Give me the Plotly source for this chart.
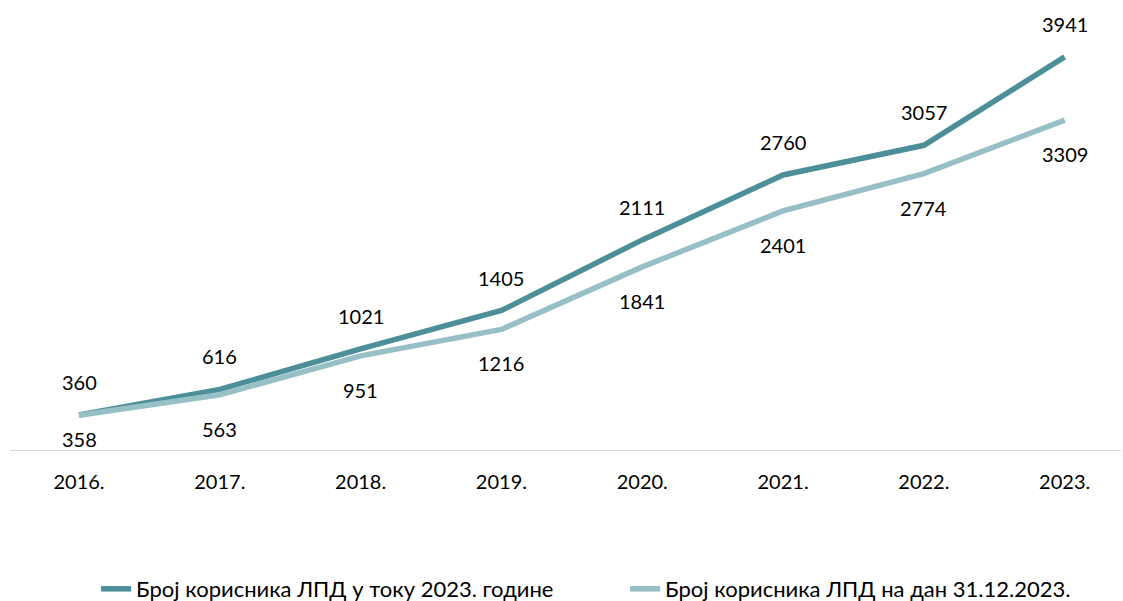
import plotly.graph_objects as go

years = ["2016.", "2017.", "2018.", "2019.", "2020.", "2021.", "2022.", "2023."]
during_2023 = [360, 616, 1021, 1405, 2111, 2760, 3057, 3941]
on_31_12 = [358, 563, 951, 1216, 1841, 2401, 2774, 3309]
name1 = "Број корисника ЛПД у току 2023. године"
name2 = "Број корисника ЛПД на дан 31.12.2023."

c1 = "#4C8F99"
c2 = "#97BFC6"
font = "Lato, 'Noto Sans', sans-serif"

fig = go.Figure()
fig.add_trace(go.Scatter(x=list(range(len(years))), y=during_2023, mode="lines", name=name1,
                         line=dict(color=c1, width=5.5)))
fig.add_trace(go.Scatter(x=list(range(len(years))), y=on_31_12, mode="lines", name=name2,
                         line=dict(color=c2, width=5.5)))

for i, v in enumerate(during_2023):
    fig.add_annotation(x=i, y=v, text=str(v), showarrow=False, yshift=33,
                       font=dict(size=20, color="#000000", family=font))
for i, v in enumerate(on_31_12):
    # label kept inside the plot area (above the axis line) like the original
    shift = -24 if i == 0 else -34
    fig.add_annotation(x=i, y=v, text=str(v), showarrow=False, yshift=shift,
                       font=dict(size=20, color="#000000", family=font))

fig.update_layout(
    width=1123, height=601,
    margin=dict(l=10, r=2, t=1, b=150, autoexpand=False),
    plot_bgcolor="white", paper_bgcolor="white",
    font=dict(family=font, size=20, color="#000000"),
    showlegend=True,
    legend=dict(orientation="h", x=0.0775, xanchor="left", y=-0.3067, yanchor="middle",
                font=dict(size=22), entrywidth=484, entrywidthmode="pixels"),
    xaxis=dict(range=[-0.49, 7.40], tickmode="array", tickvals=list(range(len(years))),
               ticktext=years, showgrid=False, zeroline=False, showline=False,
               ticks="", ticklabelstandoff=17, automargin=False),
    yaxis=dict(range=[0, 4500], visible=False, showgrid=False, zeroline=False, automargin=False),
)
fig.add_shape(type="line", xref="paper", yref="y", x0=0, x1=1, y0=0, y1=0,
              line=dict(color="#D9D9D9", width=2))
fig.write_html("out.html", config={"displayModeBar": False},
               post_script="document.body.style.margin='0';document.body.style.overflow='hidden';")
